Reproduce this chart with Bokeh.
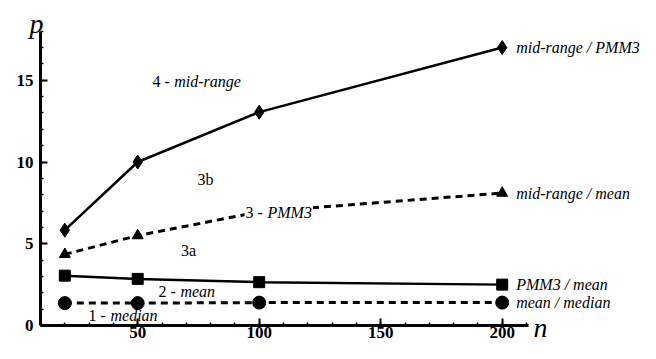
from bokeh.plotting import figure
from bokeh.models import Label, SingleIntervalTicker, Range1d
from bokeh.embed import file_html
from bokeh.resources import INLINE

# ---- data ----
n_values = [20, 50, 100, 200]
midrange_pmm3 = [5.83, 10.0, 13.05, 17.0]
midrange_mean = [4.35, 5.5, 6.95, 8.1]
pmm3_mean = [3.05, 2.85, 2.65, 2.5]
mean_median = [1.37, 1.37, 1.4, 1.4]
series_names = ["mid-range / PMM3", "mid-range / mean", "PMM3 / mean", "mean / median"]

FONT = "'Liberation Serif', serif"

# axis layout (pixel scale)
XPX = 2.43   # px per unit of n
YPX = 16.35  # px per unit of p
X0, Y0 = 40, 325  # canvas position of (n=10, p=0)
W, H = 640, 343

p = figure(width=W, height=H, output_backend="svg", toolbar_location=None,
           x_range=Range1d(10 - X0 / XPX, 10 + (W - X0) / XPX),
           y_range=Range1d(-(H - Y0) / YPX, Y0 / YPX),
           min_border_left=0, min_border_right=0, min_border_top=0, min_border_bottom=0)
p.title.visible = False
p.outline_line_color = None
p.xgrid.visible = False
p.ygrid.visible = False
p.background_fill_color = "white"

for ax in (p.xaxis[0], p.yaxis[0]):
    ax.axis_line_width = 3
    ax.axis_line_color = "black"
    ax.major_tick_in = 7
    ax.major_tick_out = 0
    ax.minor_tick_in = 3
    ax.minor_tick_out = 0
    ax.major_tick_line_width = 2
    ax.minor_tick_line_width = 1.5
    ax.major_label_text_font = FONT
    ax.major_label_text_font_style = "bold"
    ax.major_label_text_font_size = "17px"
    ax.major_label_text_color = "black"

p.xaxis.ticker = SingleIntervalTicker(interval=50, num_minor_ticks=5)
p.yaxis.ticker = SingleIntervalTicker(interval=5, num_minor_ticks=5)
p.xaxis.fixed_location = 0
p.yaxis.fixed_location = 10
p.xaxis.bounds = (10, 210.8)
p.yaxis.bounds = (0, 18)
p.xaxis.major_label_standoff = 1
p.yaxis.major_label_standoff = 7

# lines
p.line(n_values, midrange_pmm3, line_color="black", line_width=2.5)
p.scatter(n_values, midrange_pmm3, marker="diamond", size=14, color="black")

p.line(n_values, midrange_mean, line_color="black", line_width=3, line_dash="7 5")
p.scatter(n_values, midrange_mean, marker="triangle", size=11, color="black")

p.line(n_values, pmm3_mean, line_color="black", line_width=2.5)
p.scatter(n_values, pmm3_mean, marker="square", size=11, color="black")

p.line(n_values, mean_median, line_color="black", line_width=3, line_dash="7 5")
p.scatter(n_values, mean_median, marker="circle", size=13, color="black")

# right labels
for name, ys in zip(series_names, [midrange_pmm3, midrange_mean, pmm3_mean, mean_median]):
    p.add_layout(Label(x=n_values[-1], y=ys[-1], text=name, x_offset=14,
                       text_baseline="middle", text_font=FONT, text_font_style="italic",
                       text_font_size="16px", text_color="black"))

def lab(x, y, t, italic=False, bg=None, align="left"):
    kw = {}
    if bg:
        kw = dict(background_fill_color=bg, padding=1)
    p.add_layout(Label(x=x, y=y, text=t, text_baseline="middle", text_align=align,
                       text_font=FONT, text_font_style="italic" if italic else "normal",
                       text_font_size="16px", text_color="black", **kw))

lab(56.1, 14.94, "4 -")
lab(65.0, 14.94, "mid-range", italic=True)
lab(77.9, 8.93, "3b", align="center")
lab(94.0, 6.9, "3 - ", bg="white")
lab(103.0, 6.9, "PMM3", italic=True, bg="white")
lab(70.9, 4.58, "3a", align="center")
lab(58.6, 2.08, "2 -")
lab(67.6, 2.08, "mean", italic=True)
lab(29.75, 0.6, "1 -")
lab(38.8, 0.6, "median", italic=True)

# axis titles
p.add_layout(Label(x=8.35, y=18.47, text="p", text_align="center", text_baseline="alphabetic",
                   text_font=FONT, text_font_style="italic", text_font_size="28px", text_color="black"))
p.add_layout(Label(x=212.9, y=-0.12, text="n", text_align="left", text_baseline="alphabetic",
                   text_font=FONT, text_font_style="italic", text_font_size="28px", text_color="black"))

open("out.html", "w").write(file_html(p, INLINE))
